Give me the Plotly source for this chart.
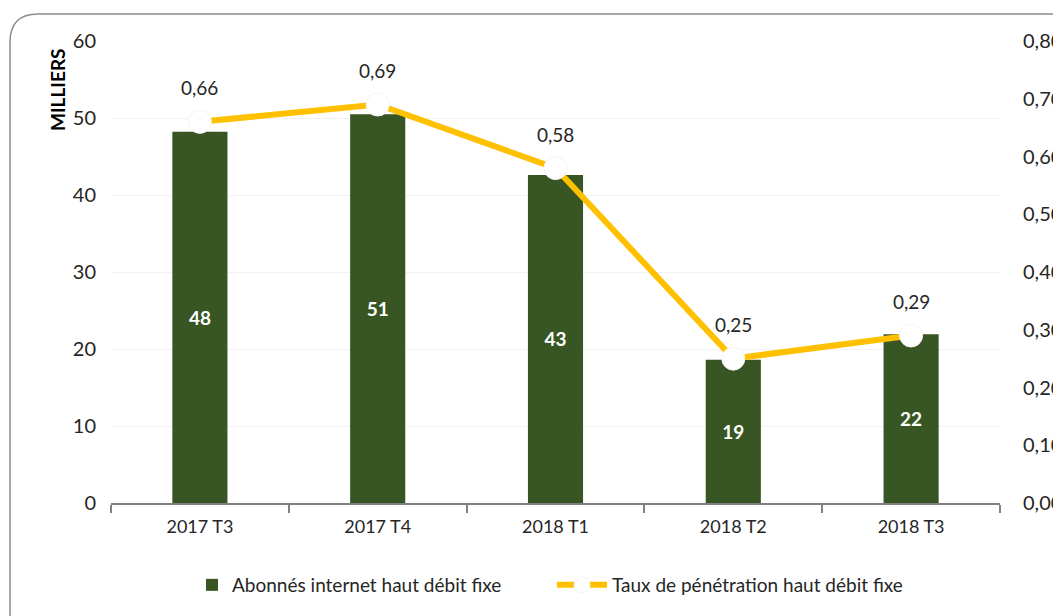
import plotly.graph_objects as go

categories = ["2017 T3", "2017 T4", "2018 T1", "2018 T2", "2018 T3"]
abonnes = [48.2, 50.5, 42.6, 18.6, 21.9]
abonnes_labels = ["48", "51", "43", "19", "22"]
taux = [0.66, 0.69, 0.58, 0.25, 0.29]
taux_labels = ["0,66", "0,69", "0,58", "0,25", "0,29"]
left_ticks = [0, 10, 20, 30, 40, 50, 60]
right_ticks = [0, 0.1, 0.2, 0.3, 0.4, 0.5, 0.6, 0.7, 0.8]

FONT = "Lato, Open Sans, sans-serif"
GREEN = "#375623"
YELLOW = "#FFC000"
TXT = "#262626"

# page body adds an 8px offset; screen px -> figure px
OFF = 8
L, T, R_EDGE, B_EDGE = 111 - OFF, 41 - OFF, 1000 - OFF, 503 - OFF
FW, FH = 1061, 616
W, H = R_EDGE - L, B_EDGE - T
def px(x): return (x - OFF - L) / W
def py(y): return (B_EDGE - (y - OFF)) / H

fig = go.Figure()
fig.add_trace(go.Bar(
    x=categories, y=abonnes, name="Abonnés internet haut débit fixe",
    marker=dict(color=GREEN, line=dict(width=0)),
    text=abonnes_labels, textposition="inside", insidetextanchor="middle",
    textfont=dict(color="white", size=19, family=FONT, weight="bold"),
    yaxis="y", legend="legend",
))
fig.add_trace(go.Scatter(
    x=categories, y=taux, name="Taux de pénétration haut débit fixe",
    mode="lines+markers",
    line=dict(color=YELLOW, width=6),
    marker=dict(color="white", size=23, line=dict(color="#f4f4f4", width=1)),
    yaxis="y2", cliponaxis=False, legend="legend2",
))

annotations = [dict(text="<b>MILLIERS</b>", textangle=-90, x=px(57), y=py(90),
                    xref="paper", yref="paper", showarrow=False,
                    xanchor="center", yanchor="middle",
                    font=dict(size=19, family=FONT, color="black"))]
for c, v, t in zip(categories, taux, taux_labels):
    annotations.append(dict(text=t, x=c, y=v, xref="x", yref="y2", showarrow=False,
                            yshift=34, xanchor="center", yanchor="middle",
                            font=dict(size=19, family=FONT, color=TXT)))

# Rounded border
x0, y0, x1, y1, r = 10, 14, 1085, 650, 28
path = (f"M {px(x0)},{py(y0 + r)} "
        f"Q {px(x0)},{py(y0)} {px(x0 + r)},{py(y0)} "
        f"L {px(x1)},{py(y0)} "
        f"M {px(x0)},{py(y0 + r)} L {px(x0)},{py(y1)}")

fig.update_layout(
    width=FW, height=FH,
    margin=dict(l=L, r=FW - R_EDGE, t=T, b=FH - B_EDGE, autoexpand=False),
    paper_bgcolor="white", plot_bgcolor="white",
    separators=",.",
    font=dict(family=FONT, color=TXT, size=18),
    bargap=0.69,
    showlegend=True,
    legend=dict(orientation="h", x=px(192), xanchor="left", y=py(585), yanchor="middle",
                font=dict(size=19, family=FONT, color=TXT), itemwidth=30,
                bgcolor="rgba(0,0,0,0)"),
    legend2=dict(orientation="h", x=px(552), xanchor="left", y=py(585), yanchor="middle",
                 font=dict(size=19, family=FONT, color=TXT), itemwidth=50,
                 bgcolor="rgba(0,0,0,0)"),
    xaxis=dict(type="category", showgrid=False, showline=True, linecolor="#808080",
               linewidth=2, ticks="outside", tickson="boundaries", ticklen=8,
               tickcolor="#808080", tickwidth=2, automargin=False,
               ticklabelstandoff=6,
               tickfont=dict(size=18, family=FONT, color=TXT),
               range=[-0.5, 4.5]),
    yaxis=dict(range=[0, 60], tickvals=left_ticks, showgrid=True, gridcolor="#f2f2f2",
               zeroline=False, showline=False, ticks="", ticklabelstandoff=14,
               automargin=False,
               tickfont=dict(size=20, family=FONT, color=TXT)),
    yaxis2=dict(range=[0, 0.8], tickvals=right_ticks, tickformat=".2f",
                overlaying="y", side="right", showgrid=False, zeroline=False,
                showline=False, ticks="", ticklabelstandoff=22, automargin=False,
                tickfont=dict(size=20, family=FONT, color=TXT)),
    shapes=[dict(type="path", path=path, xref="paper", yref="paper",
                 line=dict(color="#8c8c8c", width=1.5), layer="below")],
    annotations=annotations,
)

fig.write_html("out.html")
